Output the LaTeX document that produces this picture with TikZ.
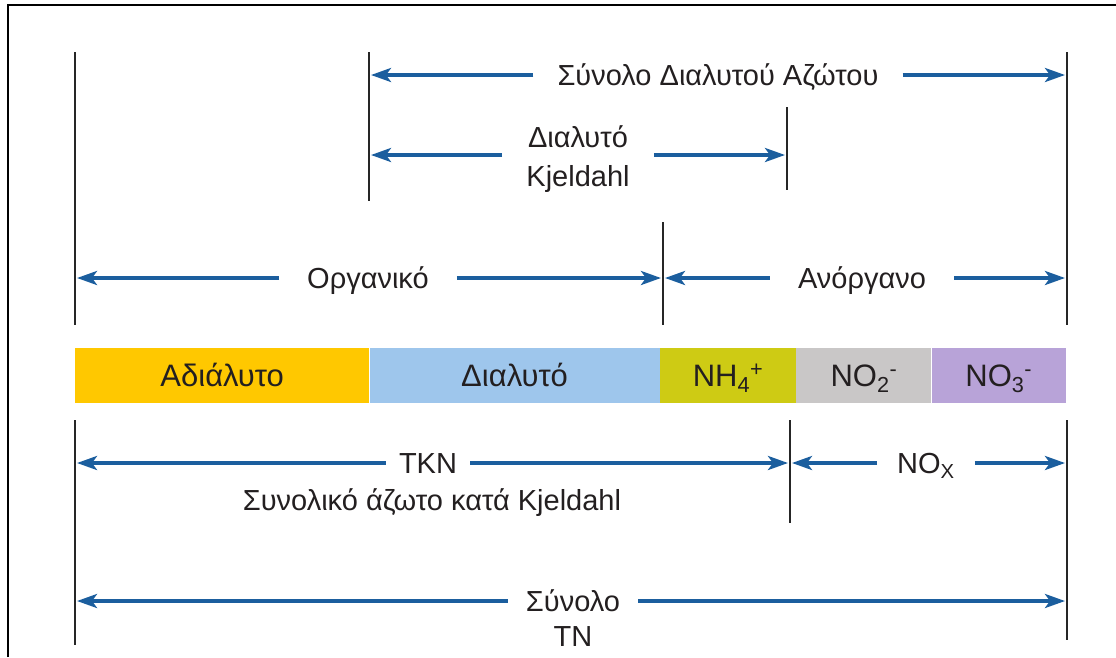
\documentclass[tikz,border=0pt]{standalone}
\usepackage{fontspec}
\setmainfont{Liberation Sans}
\usetikzlibrary{arrows.meta}
\definecolor{arrowblue}{HTML}{1B5E9E}
\definecolor{txt}{HTML}{231F20}
\definecolor{goldseg}{HTML}{FFC800}
\definecolor{blueseg}{HTML}{9EC6EC}
\definecolor{oliveseg}{HTML}{CECB14}
\definecolor{greyseg}{HTML}{C9C7C7}
\definecolor{lavseg}{HTML}{B8A3D8}
\begin{document}
\begin{tikzpicture}[x=1pt,y=-1pt,
  dim/.style={draw=arrowblue, line width=3.4pt, -{Stealth[length=20pt,width=14pt,inset=5pt]}, shorten >=2pt},
  lbl/.style={inner xsep=24pt, inner ysep=0pt, text height=20.8pt, text depth=0pt, align=center,
              font=\fontsize{29}{39}\selectfont, text=txt},
  vline/.style={line width=2pt, draw=black!85},
  seg/.style={draw=none, minimum height=55pt, inner sep=0pt, anchor=west,
              text height=22pt, text depth=0pt, font=\fontsize{31}{36}\selectfont, text=txt}]
\useasboundingbox (0,0) rectangle (1116,657);
\draw[line width=2.5pt] (8,657) -- (8,5) -- (1116,5);

% vertical reference lines
\coordinate (Lt) at (75,52);   \coordinate (Lb) at (75,325);
\coordinate (L2t) at (75,420); \coordinate (L2b) at (75,645);
\coordinate (At) at (369,52);  \coordinate (Ab) at (369,201);
\coordinate (Kt) at (787,107); \coordinate (Kb) at (787,190);
\coordinate (Ot) at (663,222); \coordinate (Ob) at (663,325);
\coordinate (Rt) at (1067,52); \coordinate (Rb) at (1067,325);
\coordinate (R2t) at (1067,420); \coordinate (R2b) at (1067,640);
\coordinate (Tt) at (790,420); \coordinate (Tb) at (790,523);
\foreach \a/\b in {Lt/Lb, L2t/L2b, At/Ab, Kt/Kb, Ot/Ob, Rt/Rb, R2t/R2b, Tt/Tb}
  \draw[vline] (\a) -- (\b);

% bar
\node[seg, fill=goldseg, minimum width=294pt] (s1) at (75,375) {Αδιάλυτο};
\node[seg, fill=blueseg, minimum width=290pt] (s2) at (s1.east) {Διαλυτό};
\node[seg, fill=oliveseg, minimum width=136pt] (s3) at (s2.east) {NH\textsubscript{4}\textsuperscript{+}};
\node[seg, fill=greyseg, minimum width=135pt] (s4) at (s3.east) {NO\textsubscript{2}\textsuperscript{-}};
\node[seg, fill=lavseg, minimum width=134pt] (s5) at (s4.east) {NO\textsubscript{3}\textsuperscript{-}};

% labels
\node[lbl] (sda) at (718,75) {Σύνολο Διαλυτού Αζώτου};
\node[lbl, text height=62.8pt] (dk) at (578,155) {Διαλυτό\\Kjeldahl};
\node[lbl, inner xsep=28pt] (org) at (368,278) {Οργανικό};
\node[lbl, inner xsep=28pt] (anorg) at (862,278) {Ανόργανο};
\node[lbl, inner xsep=13pt] (tkn) at (428,463) {TKN};
\node[lbl] (skj) at (432,500) {Συνολικό άζωτο κατά Kjeldahl};
\node[lbl, inner xsep=20pt] (nox) at (926,463) {NO\textsubscript{X}};
\node[lbl, inner xsep=18pt] (syn) at (573,601) {Σύνολο};
\node[lbl] (tn) at (573,636) {TN};

% dimension arrows
\draw[dim] (sda.west) -- (sda.west -| At);
\draw[dim] (sda.east) -- (sda.east -| Rt);
\draw[dim] (dk.west) -- (dk.west -| At);
\draw[dim] (dk.east) -- (dk.east -| Kt);
\draw[dim] (org.west) -- (org.west -| Lt);
\draw[dim] (org.east) -- (org.east -| Ot);
\draw[dim] (anorg.west) -- (anorg.west -| Ot);
\draw[dim] (anorg.east) -- (anorg.east -| Rt);
\draw[dim] (tkn.west) -- (tkn.west -| L2t);
\draw[dim] (tkn.east) -- (tkn.east -| Tt);
\draw[dim] (nox.west) -- (nox.west -| Tt);
\draw[dim] (nox.east) -- (nox.east -| R2t);
\draw[dim] (syn.west) -- (syn.west -| L2t);
\draw[dim] (syn.east) -- (syn.east -| R2t);
\end{tikzpicture}
\end{document}
